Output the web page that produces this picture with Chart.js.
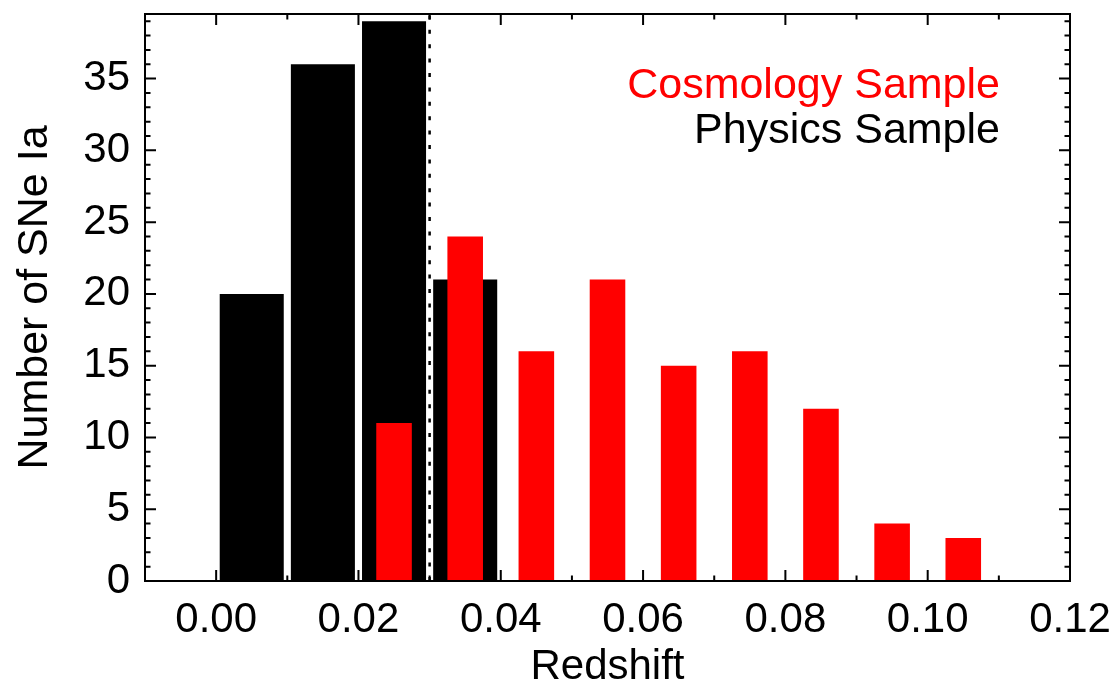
<!DOCTYPE html>
<html>
    <head>
        <title>SNe Ia redshift histogram</title>
        <script src="https://cdn.jsdelivr.net/npm/chart.js@4.4.0/dist/chart.umd.min.js"></script>
        <style>
            body { margin: 0; background: #ffffff; }
            #wrap { width: 1118px; height: 684px; }
        </style>
    </head>
    <body>

    <div id="wrap">
        <!-- this is where the chart goes -->
        <canvas id="redshiftChart"></canvas>
    </div>

    <script>
        // histogram bins (left edge of each 0.01 bin) and counts
        const binWidth = 0.01;
        const physicsBins = [0.00, 0.01, 0.02, 0.03];
        const physicsCounts = [20, 36, 39, 21];
        const cosmologyBins = [0.02, 0.03, 0.04, 0.05, 0.06, 0.07, 0.08, 0.09, 0.10];
        const cosmologyCounts = [11, 24, 16, 21, 15, 16, 12, 4, 3];

        // axis ticks
        const xTickValues = [0.00, 0.02, 0.04, 0.06, 0.08, 0.10, 0.12];
        const xTickLabels = ['0.00', '0.02', '0.04', '0.06', '0.08', '0.10', '0.12'];
        const yTickValues = [0, 5, 10, 15, 20, 25, 30, 35];
        const yTickLabels = ['0', '5', '10', '15', '20', '25', '30', '35'];
        const xMinorStep = 0.01;
        const yMinorStep = 1;

        // dotted cut between physics and cosmology samples
        const redshiftCut = 0.03;

        const legendLabels = ['Cosmology Sample', 'Physics Sample'];

        const font = '"Liberation Sans", Arial, Helvetica, sans-serif';

        function toPoints(bins, counts) {
            return bins.map((b, i) => ({ x: b + binWidth / 2, y: counts[i] }));
        }

        // frame, inward ticks on all four sides, cut line and sample labels
        const framePlugin = {
            id: 'frame',
            afterDatasetsDraw(chart) {
                const c = chart.ctx;
                const a = chart.chartArea;
                const xs = chart.scales.x;
                const ys = chart.scales.y;
                const major = 11, minor = 5.5;
                c.save();
                c.strokeStyle = '#000';

                // cut line
                const xc = xs.getPixelForValue(redshiftCut);
                c.setLineDash([4, 10.4]);
                c.lineWidth = 2.5;
                c.beginPath();
                c.moveTo(xc, a.bottom);
                c.lineTo(xc, a.top);
                c.stroke();
                c.setLineDash([]);
                c.lineWidth = 2;

                c.beginPath();
                for (let v = xs.min; v <= xs.max + 1e-9; v += xMinorStep) {
                    const k = Math.round(v / xMinorStep);
                    const len = (k % 2 === 0) ? major : minor;
                    const px = xs.getPixelForValue(k * xMinorStep);
                    c.moveTo(px, a.bottom); c.lineTo(px, a.bottom - len);
                    c.moveTo(px, a.top); c.lineTo(px, a.top + len);
                }
                for (let v = 0; v <= ys.max; v += yMinorStep) {
                    const len = (v % 5 === 0) ? major : minor;
                    const py = ys.getPixelForValue(v);
                    c.moveTo(a.left, py); c.lineTo(a.left + len, py);
                    c.moveTo(a.right, py); c.lineTo(a.right - len, py);
                }
                c.stroke();

                c.strokeRect(a.left, a.top, a.right - a.left, a.bottom - a.top);

                // sample labels
                c.font = '43px ' + font;
                c.textAlign = 'right';
                c.textBaseline = 'alphabetic';
                c.fillStyle = '#ff0000';
                c.fillText(legendLabels[0], a.right - 70, 98);
                c.fillStyle = '#000000';
                c.fillText(legendLabels[1], a.right - 70, 143);
                c.restore();
            }
        };

        const ctx = document.getElementById('redshiftChart');

        const redshiftChart = new Chart(ctx, {
            type: 'bar',
            data: {
                datasets: [{
                    label: legendLabels[0],
                    data: toPoints(cosmologyBins, cosmologyCounts),
                    backgroundColor: '#ff0000',
                    grouped: false,
                    categoryPercentage: 1,
                    barPercentage: 0.5,
                    order: 0
                }, {
                    label: legendLabels[1],
                    data: toPoints(physicsBins, physicsCounts),
                    backgroundColor: '#000000',
                    grouped: false,
                    categoryPercentage: 1,
                    barPercentage: 0.9,
                    order: 1
                }]
            },
            options: {
                responsive: true,
                maintainAspectRatio: false,
                animation: false,
                layout: { padding: { top: 14, right: 48, left: 0, bottom: 0 } },
                plugins: {
                    legend: { display: false },
                    tooltip: { enabled: false }
                },
                scales: {
                    x: {
                        type: 'linear',
                        offset: false,
                        min: -0.01,
                        max: 0.12,
                        grid: { display: false, drawTicks: false },
                        border: { display: false },
                        afterBuildTicks: s => { s.ticks = xTickValues.map(v => ({ value: v })); },
                        afterFit: s => { s.height = 103; s.paddingLeft = 0; s.paddingRight = 0; },
                        ticks: {
                            autoSkip: false,
                            maxRotation: 0,
                            padding: 14,
                            color: '#000',
                            font: { family: font, size: 42 },
                            callback: (v, i) => xTickLabels[i]
                        },
                        title: {
                            display: true,
                            text: 'Redshift',
                            color: '#000',
                            font: { family: font, size: 42, lineHeight: 1 },
                            padding: { top: 0, bottom: -4 }
                        }
                    },
                    y: {
                        min: 0,
                        max: 39.5,
                        grid: { display: false, drawTicks: false },
                        border: { display: false },
                        afterBuildTicks: s => { s.ticks = yTickValues.map(v => ({ value: v })); },
                        afterFit: s => { s.width = 145; s.paddingTop = 0; s.paddingBottom = 0; },
                        ticks: {
                            autoSkip: false,
                            padding: 15,
                            color: '#000',
                            font: { family: font, size: 42 },
                            callback: (v, i) => yTickLabels[i]
                        },
                        title: {
                            display: true,
                            text: 'Number of SNe Ia',
                            color: '#000',
                            font: { family: font, size: 43, lineHeight: 1 },
                            padding: { top: 14, bottom: 0 }
                        }
                    }
                }
            },
            plugins: [framePlugin]
        });
    </script>
    </body>
</html>
